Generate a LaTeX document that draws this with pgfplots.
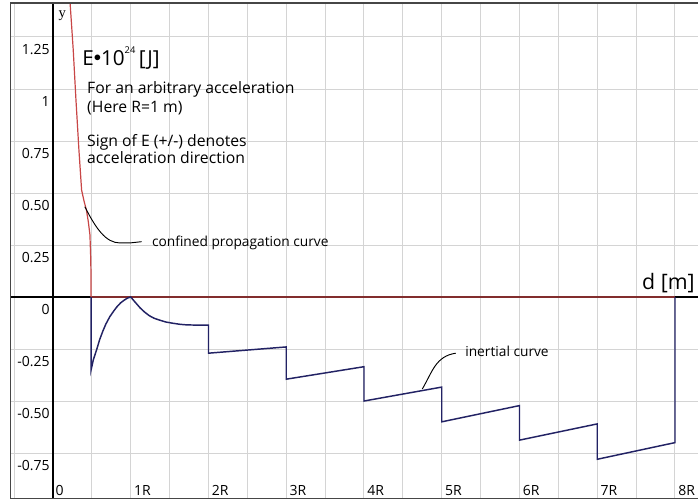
\documentclass[border=0pt]{standalone}
\usepackage{fontspec}
\setmainfont{Open Sans}
\newfontfamily\seriffont{Liberation Serif}
\usepackage{pgfplots}
\pgfplotsset{compat=1.18}
\definecolor{redc}{RGB}{200,70,70}
\definecolor{bluec}{RGB}{34,34,100}
\definecolor{gridc}{RGB}{212,212,212}
\definecolor{framec}{RGB}{70,70,70}
\begin{document}
\begin{tikzpicture}
\begin{axis}[
  scale only axis, width=516pt, height=372pt,
  xmin=-0.553, xmax=8.296, ymin=-0.971, ymax=1.4135,
  xtick={-0.5,0,...,8}, ytick={-0.75,-0.5,...,1.25},
  xticklabels={}, yticklabels={},
  major tick length=0pt,
  grid=major, grid style={draw=gridc, line width=0.75pt},
  axis line style={draw=none},
  clip=true,
]
% axes through origin
\draw[black, line width=0.8pt] (axis cs:-0.6,0) -- (axis cs:8.4,0);
\draw[black, line width=0.8pt] (axis cs:0,-1) -- (axis cs:0,1.5);
% red: confined propagation curve
\addplot[redc, line width=0.9pt] coordinates {
 (0.215,1.45) (0.22,1.413) (0.26,1.19) (0.295,0.95) (0.333,0.71) (0.368,0.514)
 (0.40,0.46) (0.43,0.418) (0.455,0.36) (0.475,0.30) (0.485,0.19) (0.49,0.08) (0.49,0) (8.0,0)
};
% blue: inertial curve
\addplot[bluec, line width=1.1pt] coordinates {
 (0.49,0) (0.49,-0.35) (0.52,-0.30) (0.56,-0.255) (0.60,-0.205) (0.64,-0.165)
 (0.68,-0.13) (0.73,-0.095) (0.78,-0.068) (0.82,-0.048) (0.87,-0.028) (0.92,-0.014)
 (0.96,-0.005) (1.0,0) (1.05,-0.022) (1.12,-0.052) (1.18,-0.073) (1.24,-0.09)
 (1.30,-0.102) (1.37,-0.111) (1.45,-0.12) (1.54,-0.126) (1.63,-0.131) (1.72,-0.134)
 (1.85,-0.135) (2.0,-0.135)
 (2.0,-0.27) (3.0,-0.24) (3.0,-0.395) (4.0,-0.335) (4.0,-0.50) (5.0,-0.433)
 (5.0,-0.60) (6.0,-0.522) (6.0,-0.688) (7.0,-0.61) (7.0,-0.78) (8.0,-0.70) (8.0,0)
};
% frame (left, top, bottom)
\draw[framec, line width=1.6pt] (rel axis cs:1.02,1) -- (rel axis cs:0,1) -- (rel axis cs:0,0) -- (rel axis cs:1.02,0);
% pointers
\draw[black, line width=0.7pt] (axis cs:0.41,0.434) .. controls (axis cs:0.55,0.33) and (axis cs:0.68,0.26) .. (axis cs:0.86,0.26) -- (axis cs:0.99,0.26) -- (axis cs:1.14,0.266);
\draw[black, line width=0.7pt] (axis cs:4.75,-0.442) .. controls (axis cs:4.88,-0.36) and (axis cs:4.92,-0.285) .. (axis cs:5.18,-0.27);
% texts
\node[anchor=base west, inner sep=0] at (axis cs:0.07,1.345) {\seriffont\fontsize{11}{13}\selectfont y};
\node[anchor=base west, inner sep=0] at (axis cs:0.373,1.115) {\fontsize{15.5}{18}\selectfont E\raisebox{0.18em}{\fontsize{11}{12}\selectfont$\bullet$}10\raisebox{0.55em}{\fontsize{7}{8}\selectfont 24}\,[J]};
\node[anchor=base west, inner sep=0] at (axis cs:0.437,0.976) {\fontsize{11.8}{13}\selectfont For an arbitrary acceleration};
\node[anchor=base west, inner sep=0] at (axis cs:0.437,0.888) {\fontsize{11.8}{13}\selectfont (Here R=1 m)};
\node[anchor=base west, inner sep=0] at (axis cs:0.437,0.723) {\fontsize{11.8}{13}\selectfont Sign of E (+/-) denotes};
\node[anchor=base west, inner sep=0] at (axis cs:0.437,0.643) {\fontsize{11.8}{13}\selectfont acceleration direction};
\node[anchor=base west, inner sep=0] at (axis cs:1.27,0.245) {\fontsize{10.3}{12}\selectfont confined propagation curve};
\node[anchor=base west, inner sep=0] at (axis cs:5.30,-0.288) {\fontsize{10.3}{12}\selectfont inertial curve};
\node[anchor=base west, inner sep=0] at (axis cs:7.575,0.034) {\fontsize{16}{18}\selectfont d [m]};
% y tick labels
\begin{scope}[every node/.style={anchor=base east, inner sep=0, font=\fontsize{10.5}{12}\selectfont}]
\node at (axis cs:-0.04,1.165) {1.25};
\node at (axis cs:-0.04,0.915) {1};
\node at (axis cs:-0.04,0.665) {0.75};
\node at (axis cs:-0.04,0.415) {0.50};
\node at (axis cs:-0.04,0.165) {0.25};
\node at (axis cs:-0.04,-0.085) {0};
\node at (axis cs:-0.04,-0.335) {-0.25};
\node at (axis cs:-0.04,-0.585) {-0.50};
\node at (axis cs:-0.04,-0.835) {-0.75};
\end{scope}
% x tick labels
\begin{scope}[every node/.style={anchor=base west, inner sep=0, font=\fontsize{10.5}{12}\selectfont}]
\node at (axis cs:0.03,-0.952) {0};
\node at (axis cs:1.04,-0.952) {1R};
\node at (axis cs:2.04,-0.952) {2R};
\node at (axis cs:3.04,-0.952) {3R};
\node at (axis cs:4.04,-0.952) {4R};
\node at (axis cs:5.04,-0.952) {5R};
\node at (axis cs:6.04,-0.952) {6R};
\node at (axis cs:7.04,-0.952) {7R};
\node at (axis cs:8.04,-0.952) {8R};
\end{scope}
\coordinate (bl) at (rel axis cs:0,0);
\coordinate (tr) at (rel axis cs:1,1);
\end{axis}
\pgfresetboundingbox
\path ([shift={(-7.5pt,-2.25pt)}]bl) rectangle ([shift={(0pt,2.25pt)}]tr);
\end{tikzpicture}
\end{document}
